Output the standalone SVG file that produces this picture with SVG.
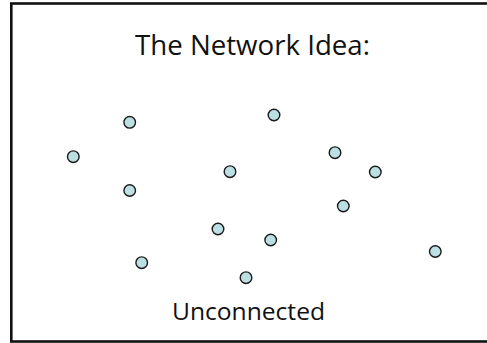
<svg xmlns="http://www.w3.org/2000/svg" width="487" height="343" viewBox="0 0 487 343">
<style>
.node circle{fill:#bbdfe2;stroke:#1a1a1a;stroke-width:1.4}
.t{font-family:"Open Sans","Liberation Sans",sans-serif;fill:#111}
</style>
<rect width="487" height="343" fill="#fff"/>
<rect x="11.3" y="3.5" width="500" height="338" fill="#fff" stroke="#111" stroke-width="2.6"/>
<text class="t" x="252.5" y="55" font-size="27" text-anchor="middle" textLength="235" lengthAdjust="spacingAndGlyphs">The Network Idea:</text>
<text class="t" x="248.5" y="320" font-size="24" text-anchor="middle" textLength="153" lengthAdjust="spacingAndGlyphs">Unconnected</text>
<g id="connectors"></g>
<g id="n1" class="node"><circle cx="129.7" cy="122.3" r="5.8"/></g>
<g id="n2" class="node"><circle cx="274" cy="115" r="5.8"/></g>
<g id="n3" class="node"><circle cx="73.3" cy="156.7" r="5.8"/></g>
<g id="n4" class="node"><circle cx="335" cy="152.7" r="5.8"/></g>
<g id="n5" class="node"><circle cx="375.3" cy="172" r="5.8"/></g>
<g id="n6" class="node"><circle cx="230" cy="171.7" r="5.8"/></g>
<g id="n7" class="node"><circle cx="129.7" cy="190.5" r="5.8"/></g>
<g id="n8" class="node"><circle cx="343.3" cy="206" r="5.8"/></g>
<g id="n9" class="node"><circle cx="218" cy="229" r="5.8"/></g>
<g id="n10" class="node"><circle cx="270.7" cy="240" r="5.8"/></g>
<g id="n11" class="node"><circle cx="435.3" cy="251.5" r="5.8"/></g>
<g id="n12" class="node"><circle cx="141.7" cy="262.7" r="5.8"/></g>
<g id="n13" class="node"><circle cx="246" cy="277.7" r="5.8"/></g>
</svg>
